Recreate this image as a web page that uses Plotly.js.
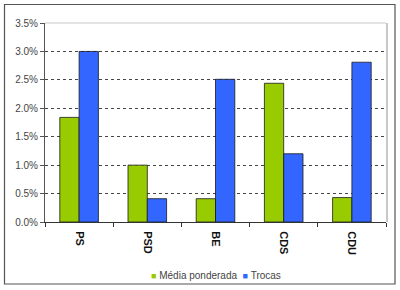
<!DOCTYPE html>
<html><head><meta charset="utf-8">
<script src="https://cdn.plot.ly/plotly-3.0.1.min.js"></script>
<style>html,body{margin:0;padding:0;background:#fff;}#chart{width:400px;height:290px;}</style>
</head><body><div id="chart"></div>
<script>
const categories = ["PS", "PSD", "BE", "CDS", "CDU"];
const mediaPonderada = [0.0184, 0.0100, 0.0041, 0.0244, 0.0043];
const trocas = [0.0300, 0.0041, 0.0251, 0.0120, 0.0281];
const seriesNames = ["Média ponderada", "Trocas"];
const seriesColors = ["#99cc00", "#3366ff"];
const yTickVals = [0, 0.005, 0.01, 0.015, 0.02, 0.025, 0.03, 0.035];

const W = 400, H = 290;
const m = {l: 45, r: 14, t: 23, b: 68};
const pw = W - m.l - m.r, ph = H - m.t - m.b;
const px = v => (v - m.l) / pw;
const py = v => (H - m.b - v) / ph;

const barLine = {color: '#1a1a1a', width: 0.8};
const traces = [
  {type: 'bar', x: categories, y: mediaPonderada, name: seriesNames[0], marker: {color: seriesColors[0], line: barLine}},
  {type: 'bar', x: categories, y: trocas, name: seriesNames[1], marker: {color: seriesColors[1], line: barLine}}
];

const legendText = seriesNames.map((n, i) =>
  `<span style="color:${seriesColors[i]};font-size:9px">■</span> ${n}`).join('  ');

const layout = {
  width: W, height: H,
  margin: m,
  showlegend: false,
  paper_bgcolor: '#fff', plot_bgcolor: '#fff',
  font: {family: 'Arial, "Liberation Sans", sans-serif', size: 10, color: '#333'},
  barmode: 'group', bargap: 0.434, bargroupgap: 0,
  xaxis: {
    type: 'category', tickangle: 90, tickson: 'boundaries', ticks: 'outside', ticklen: 4, tickcolor: '#333',
    showline: true, linecolor: '#333', linewidth: 1, showgrid: false, automargin: false,
    ticklabelstandoff: 6,
    tickfont: {family: 'Arial, "Liberation Sans", sans-serif', size: 11, color: '#111', weight: 'bold'},
    range: [-0.5, 4.5]
  },
  yaxis: {
    range: [0, 0.035], tickvals: yTickVals, tickformat: '.1%', ticks: 'outside', ticklen: 4, tickcolor: '#555',
    showline: true, linecolor: '#555', linewidth: 1, automargin: false,
    showgrid: true, gridcolor: '#444', gridwidth: 1, griddash: '3px,3px', zeroline: false,
    tickfont: {size: 10, color: '#444'}
  },
  annotations: [
    {xref: 'paper', yref: 'paper', x: px(216), y: py(275.5), xanchor: 'center', yanchor: 'middle', showarrow: false,
     text: legendText, font: {size: 10, color: '#444'}}
  ],
  shapes: [
    {type: 'rect', xref: 'paper', yref: 'paper', x0: px(4.5), x1: px(395), y0: py(284), y1: py(4.5), line: {color: '#555', width: 1.2}, layer: 'below'},
    {type: 'line', xref: 'paper', yref: 'paper', x0: 0, x1: 1, y0: 1, y1: 1, line: {color: '#c8c8c8', width: 1}},
    {type: 'line', xref: 'paper', yref: 'paper', x0: px(387), x1: px(387), y0: 0, y1: 1, line: {color: '#c8c8c8', width: 2}}
  ]
};

Plotly.newPlot('chart', traces, layout, {displayModeBar: false, staticPlot: true});
</script></body></html>
